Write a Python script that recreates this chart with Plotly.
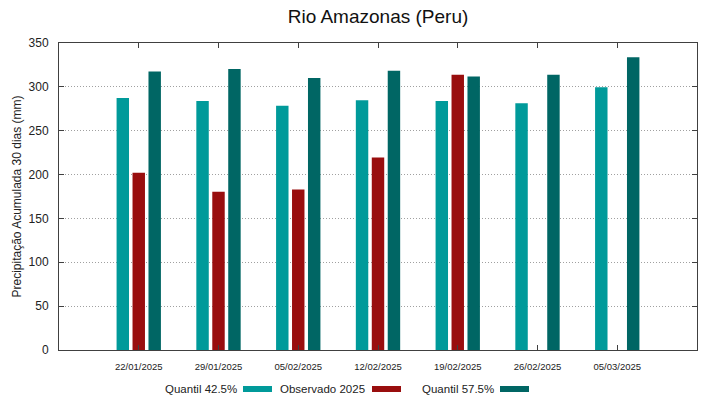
import plotly.graph_objects as go

dates = ["22/01/2025", "29/01/2025", "05/02/2025", "12/02/2025",
         "19/02/2025", "26/02/2025", "05/03/2025"]
q425 = [287.4, 284.0, 278.6, 284.7, 284.0, 281.3, 299.5]
obs2025 = [202.0, 180.3, 183.0, 219.4, 313.9, None, None]
q575 = [317.4, 320.4, 310.1, 318.5, 311.7, 313.9, 333.7]

names = ["Quantil 42.5%", "Observado 2025", "Quantil 57.5%"]
colors = ["#009a9a", "#990e0e", "#006664"]
series = [q425, obs2025, q575]

x_idx = list(range(len(dates)))

fig = go.Figure()
for nm, col, vals in zip(names, colors, series):
    fig.add_trace(go.Bar(x=x_idx, y=vals, name=nm, marker_color=col,
                         marker_line_width=0, showlegend=False))

L, R, T, B = 59, 22, 43, 49
W, H = 719, 399
pw, ph = W - L - R, H - T - B

font = "Liberation Sans, Arial, sans-serif"

fig.update_layout(
    width=W, height=H,
    margin=dict(l=L, r=R, t=T, b=B, autoexpand=False),
    paper_bgcolor="white", plot_bgcolor="white",
    barmode="group", bargap=0.4, bargroupgap=0.22,
    font=dict(family=font, color="#222222"),
    title=dict(text="Rio Amazonas (Peru)", x=(378) / W, xanchor="center",
               y=1 - 16 / H, yanchor="middle",
               font=dict(size=19, family=font, color="#111111")),
)
fig.update_xaxes(
    range=[-1, 7], tickmode="array", tickvals=x_idx, ticktext=dates,
    tickfont=dict(size=9.5, family=font, color="#222222"),
    ticks="inside", ticklen=5, tickcolor="#404040",
    showline=True, linecolor="#404040", linewidth=1, mirror="ticks",
    showgrid=False, zeroline=False, ticklabelstandoff=8, automargin=False,
)
fig.update_yaxes(
    range=[0, 350], tickmode="array", tickvals=[0, 50, 100, 150, 200, 250, 300, 350],
    tickfont=dict(size=12, family=font, color="#222222"),
    ticks="inside", ticklen=5, tickcolor="#404040",
    showline=True, linecolor="#404040", linewidth=1, mirror="ticks",
    showgrid=True, gridcolor="#a0a0a0", griddash="1px,2px", gridwidth=1,
    zeroline=False, ticklabelstandoff=7, automargin=False,
    title=dict(text="Precipitação Acumulada 30 dias (mm)",
               font=dict(size=12, family=font, color="#222222"), standoff=4),
)

# legend (text then swatch, gnuplot style)
leg = [(237, 243, 272), (365, 372, 401), (494, 500, 529)]
ly = 389
for (tx, sx0, sx1), nm, col in zip(leg, names, colors):
    fig.add_annotation(xref="paper", yref="paper",
                       x=(tx - L) / pw, y=(H - B - ly) / ph,
                       text=nm, showarrow=False, xanchor="right", yanchor="middle",
                       xshift=2,
                       font=dict(size=11.5, family=font, color="#222222"))
    fig.add_shape(type="rect", xref="paper", yref="paper",
                  x0=(sx0 - L) / pw, x1=(sx1 - L) / pw,
                  y0=(H - B - ly - 3) / ph, y1=(H - B - ly + 3) / ph,
                  fillcolor=col, line_width=0)

fig.write_html("out.html", config={"displayModeBar": False},
               post_script="document.body.style.margin='0';document.body.style.overflow='hidden';")
